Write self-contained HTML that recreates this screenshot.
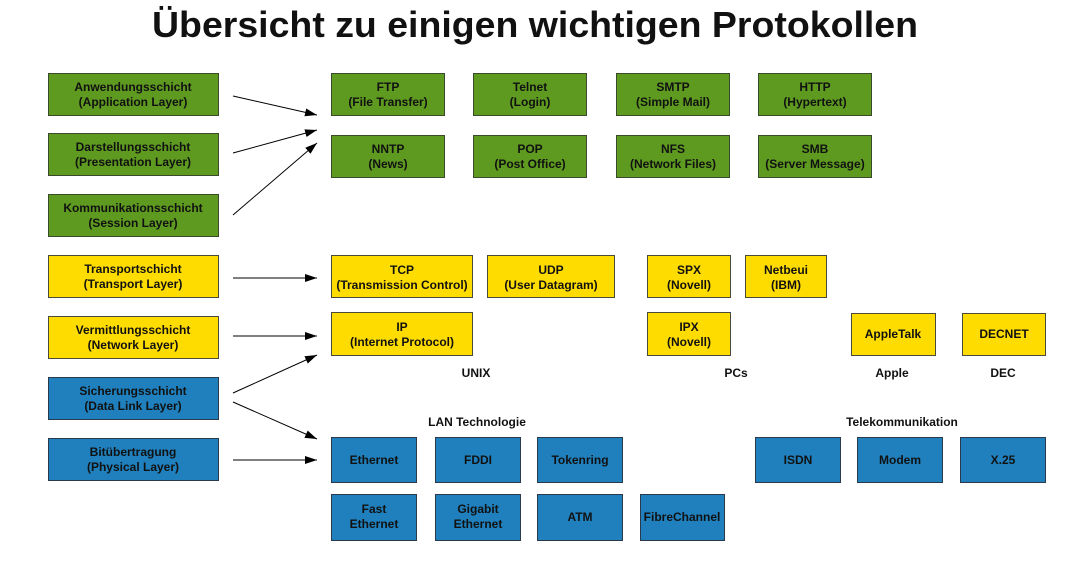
<!DOCTYPE html>
<html><head><meta charset="utf-8"><style>
html,body{margin:0;padding:0;background:#fff;width:1090px;height:569px;overflow:hidden}
svg{display:block}
text{font-family:"Liberation Sans",Arial,sans-serif;font-weight:bold;fill:#111}
.g{fill:#5e9a20;stroke:#3a4a2a;stroke-width:1}
.y{fill:#ffdc00;stroke:#4a4a3a;stroke-width:1}
.b{fill:#1f80bd;stroke:#2a3a4a;stroke-width:1}
.t{font-size:12px;text-anchor:middle}
.l{stroke:#000;stroke-width:1;fill:none;marker-end:url(#a)}
</style></head><body>
<svg width="1090" height="569" viewBox="0 0 1090 569" xmlns="http://www.w3.org/2000/svg">
<defs><marker id="a" markerWidth="12" markerHeight="8" refX="12" refY="4" orient="auto" markerUnits="userSpaceOnUse"><path d="M0,0 L12,4 L0,8 z" fill="#000"/></marker></defs>
<text x="535" y="37" font-size="36" text-anchor="middle" textLength="766" lengthAdjust="spacingAndGlyphs">Übersicht zu einigen wichtigen Protokollen</text>

<!-- left layers -->
<rect class="g" x="48.5" y="73.5" width="170" height="42"/><text class="t" x="133" y="91">Anwendungsschicht</text><text class="t" x="133" y="106">(Application Layer)</text>
<rect class="g" x="48.5" y="133.5" width="170" height="42"/><text class="t" x="133" y="151">Darstellungsschicht</text><text class="t" x="133" y="166">(Presentation Layer)</text>
<rect class="g" x="48.5" y="194.5" width="170" height="42"/><text class="t" x="133" y="212">Kommunikationsschicht</text><text class="t" x="133" y="227">(Session Layer)</text>
<rect class="y" x="48.5" y="255.5" width="170" height="42"/><text class="t" x="133" y="273">Transportschicht</text><text class="t" x="133" y="288">(Transport Layer)</text>
<rect class="y" x="48.5" y="316.5" width="170" height="42"/><text class="t" x="133" y="334">Vermittlungsschicht</text><text class="t" x="133" y="349">(Network Layer)</text>
<rect class="b" x="48.5" y="377.5" width="170" height="42"/><text class="t" x="133" y="395">Sicherungsschicht</text><text class="t" x="133" y="410">(Data Link Layer)</text>
<rect class="b" x="48.5" y="438.5" width="170" height="42"/><text class="t" x="133" y="456">Bitübertragung</text><text class="t" x="133" y="471">(Physical Layer)</text>

<!-- arrows -->
<line class="l" x1="233" y1="96" x2="317" y2="115"/>
<line class="l" x1="233" y1="153" x2="317" y2="130"/>
<line class="l" x1="233" y1="215" x2="317" y2="143"/>
<line class="l" x1="233" y1="278" x2="317" y2="278"/>
<line class="l" x1="233" y1="336" x2="317" y2="336"/>
<line class="l" x1="233" y1="393" x2="317" y2="355"/>
<line class="l" x1="233" y1="402" x2="317" y2="439"/>
<line class="l" x1="233" y1="460" x2="317" y2="460"/>

<!-- application protocols -->
<rect class="g" x="331.5" y="73.5" width="113" height="42"/><text class="t" x="388" y="91">FTP</text><text class="t" x="388" y="106">(File Transfer)</text>
<rect class="g" x="473.5" y="73.5" width="113" height="42"/><text class="t" x="530" y="91">Telnet</text><text class="t" x="530" y="106">(Login)</text>
<rect class="g" x="616.5" y="73.5" width="113" height="42"/><text class="t" x="673" y="91">SMTP</text><text class="t" x="673" y="106">(Simple Mail)</text>
<rect class="g" x="758.5" y="73.5" width="113" height="42"/><text class="t" x="815" y="91">HTTP</text><text class="t" x="815" y="106">(Hypertext)</text>
<rect class="g" x="331.5" y="135.5" width="113" height="42"/><text class="t" x="388" y="153">NNTP</text><text class="t" x="388" y="168">(News)</text>
<rect class="g" x="473.5" y="135.5" width="113" height="42"/><text class="t" x="530" y="153">POP</text><text class="t" x="530" y="168">(Post Office)</text>
<rect class="g" x="616.5" y="135.5" width="113" height="42"/><text class="t" x="673" y="153">NFS</text><text class="t" x="673" y="168">(Network Files)</text>
<rect class="g" x="758.5" y="135.5" width="113" height="42"/><text class="t" x="815" y="153">SMB</text><text class="t" x="815" y="168">(Server Message)</text>

<!-- transport / network -->
<rect class="y" x="331.5" y="255.5" width="141" height="42"/><text class="t" x="402" y="274">TCP</text><text class="t" x="402" y="289">(Transmission Control)</text>
<rect class="y" x="487.5" y="255.5" width="127" height="42"/><text class="t" x="551" y="274">UDP</text><text class="t" x="551" y="289">(User Datagram)</text>
<rect class="y" x="647.5" y="255.5" width="83" height="42"/><text class="t" x="689" y="274">SPX</text><text class="t" x="689" y="289">(Novell)</text>
<rect class="y" x="745.5" y="255.5" width="81" height="42"/><text class="t" x="786" y="274">Netbeui</text><text class="t" x="786" y="289">(IBM)</text>
<rect class="y" x="331.5" y="312.5" width="141" height="43"/><text class="t" x="402" y="331">IP</text><text class="t" x="402" y="346">(Internet Protocol)</text>
<rect class="y" x="647.5" y="312.5" width="83" height="43"/><text class="t" x="689" y="331">IPX</text><text class="t" x="689" y="346">(Novell)</text>
<rect class="y" x="851.5" y="313.5" width="84" height="42"/><text class="t" x="893" y="338">AppleTalk</text>
<rect class="y" x="962.5" y="313.5" width="83" height="42"/><text class="t" x="1004" y="338">DECNET</text>

<text class="t" x="476" y="377">UNIX</text>
<text class="t" x="736" y="377">PCs</text>
<text class="t" x="892" y="377">Apple</text>
<text class="t" x="1003" y="377">DEC</text>
<text class="t" x="477" y="426">LAN Technologie</text>
<text class="t" x="902" y="426">Telekommunikation</text>

<!-- physical -->
<rect class="b" x="331.5" y="437.5" width="85" height="45"/><text class="t" x="374" y="464">Ethernet</text>
<rect class="b" x="435.5" y="437.5" width="85" height="45"/><text class="t" x="478" y="464">FDDI</text>
<rect class="b" x="537.5" y="437.5" width="85" height="45"/><text class="t" x="580" y="464">Tokenring</text>
<rect class="b" x="755.5" y="437.5" width="85" height="45"/><text class="t" x="798" y="464">ISDN</text>
<rect class="b" x="857.5" y="437.5" width="85" height="45"/><text class="t" x="900" y="464">Modem</text>
<rect class="b" x="960.5" y="437.5" width="85" height="45"/><text class="t" x="1003" y="464">X.25</text>
<rect class="b" x="331.5" y="494.5" width="85" height="46"/><text class="t" x="374" y="513">Fast</text><text class="t" x="374" y="528">Ethernet</text>
<rect class="b" x="435.5" y="494.5" width="85" height="46"/><text class="t" x="478" y="513">Gigabit</text><text class="t" x="478" y="528">Ethernet</text>
<rect class="b" x="537.5" y="494.5" width="85" height="46"/><text class="t" x="580" y="521">ATM</text>
<rect class="b" x="640.5" y="494.5" width="84" height="46"/><text class="t" x="682" y="521">FibreChannel</text>
</svg>
</body></html>
